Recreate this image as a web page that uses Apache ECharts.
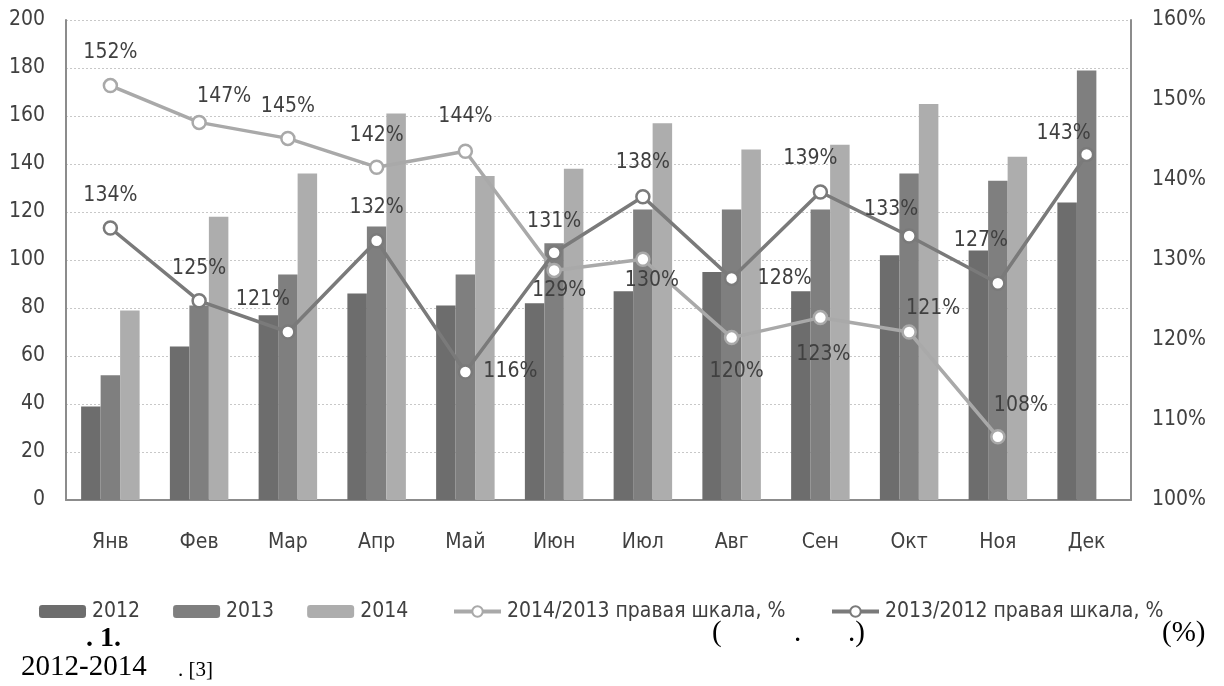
<!DOCTYPE html>
<html><head><meta charset="utf-8">
<script src="https://cdn.jsdelivr.net/npm/echarts@6/dist/echarts.min.js"></script>
<style>html,body{margin:0;padding:0;background:#fff}#c{width:1224px;height:686px}</style>
</head><body><div id="c"></div>
<script>
var months = ['Янв','Фев','Мар','Апр','Май','Июн','Июл','Авг','Сен','Окт','Ноя','Дек'];
var v2012 = [39, 64, 77, 86, 81, 82, 87, 95, 87, 102, 104, 124];
var v2013 = [52, 81, 94, 114, 94, 107, 121, 121, 121, 136, 133, 179];
var v2014 = [79, 118, 136, 161, 135, 138, 157, 146, 148, 165, 143, null];
var r1413 = [151.8, 147.2, 145.2, 141.6, 143.6, 128.7, 130.1, 120.3, 122.8, 121.0, 107.9, null];
var r1312 = [134.0, 124.9, 121.0, 132.4, 116.0, 130.9, 137.9, 127.7, 138.5, 133.0, 127.1, 143.2];
var leftTicks = {min: 0, max: 200, interval: 20};
var rightTicks = {min: 100, max: 160, interval: 10};

var off1413 = [[0,-33],[25,-26],[0,-32],[0,-32],[0,-35],[5,20],[9,21],[5,34],[3,37],[24,-23],[23,-31],[0,0]];
var off1312 = [[0,-32],[0,-32],[-25,-32],[0,-33],[45,0],[0,-31],[0,-34],[53,0],[-10,-33],[-18,-26],[-17,-43],[-23,-21]];

var FONT = '"DejaVu Sans Condensed", "DejaVu Sans", sans-serif';
var TXT = '#404040';
var FS = 21;

function withLabels(vals, offs) {
  return vals.map(function (v, i) {
    if (v === null) return null;
    return {value: v, label: {show: true, position: 'inside', offset: offs[i]}};
  });
}
function legendAt(left, names, gap) {
  return {
    left: left, top: 601, padding: 0, itemWidth: 47, itemHeight: 13, itemGap: gap,
    textStyle: {fontFamily: FONT, fontSize: FS, color: TXT, padding: [0,0,0,1]},
    lineStyle: {width: 4},
    data: names
  };
}

var chart = echarts.init(document.getElementById('c'));
chart.setOption({
  animation: false,
  backgroundColor: '#fff',
  textStyle: {fontFamily: FONT},
  grid: {left: 66, right: 93, top: 20, bottom: 186},
  legend: [
    legendAt(39, ['2012','2013','2014'], 33),
    legendAt(452, ['2014/2013 правая шкала, %'], 10),
    legendAt(830, ['2013/2012 правая шкала, %'], 10)
  ],
  xAxis: {
    type: 'category', data: months,
    axisLine: {lineStyle: {color: '#8c8c8c', width: 2}},
    axisTick: {show: false},
    axisLabel: {color: TXT, fontSize: FS, fontFamily: FONT, margin: 32}
  },
  yAxis: [{
    type: 'value', min: leftTicks.min, max: leftTicks.max, interval: leftTicks.interval,
    axisLine: {show: true, lineStyle: {color: '#8c8c8c', width: 2}},
    axisTick: {show: false},
    axisLabel: {color: TXT, fontSize: FS, fontFamily: FONT, margin: 21},
    splitLine: {lineStyle: {color: '#c8c8c8', type: [2, 2], width: 1}}
  }, {
    type: 'value', min: rightTicks.min, max: rightTicks.max, interval: rightTicks.interval,
    position: 'right',
    axisLine: {show: true, lineStyle: {color: '#8c8c8c', width: 2}},
    axisTick: {show: false},
    axisLabel: {color: TXT, fontSize: FS, fontFamily: FONT, margin: 21, formatter: '{value}%'},
    splitLine: {show: false}
  }],
  series: [
    {name: '2012', type: 'bar', data: v2012, barWidth: 19.5, barGap: '0%', itemStyle: {color: '#6d6d6d'}},
    {name: '2013', type: 'bar', data: v2013, barWidth: 19.5, barGap: '0%', itemStyle: {color: '#7f7f7f'}},
    {name: '2014', type: 'bar', data: v2014, barWidth: 19.5, barGap: '0%', itemStyle: {color: '#adadad'}},
    {
      name: '2014/2013 правая шкала, %', type: 'line', yAxisIndex: 1, z: 5,
      data: withLabels(r1413, off1413),
      symbol: 'circle', symbolSize: 13,
      lineStyle: {color: '#a9a9a9', width: 3.5},
      itemStyle: {color: '#ffffff', borderColor: '#a9a9a9', borderWidth: 2.5},
      label: {color: TXT, fontSize: FS, fontFamily: FONT, formatter: function (p) { return Math.round(p.value) + '%'; }}
    },
    {
      name: '2013/2012 правая шкала, %', type: 'line', yAxisIndex: 1, z: 6,
      data: withLabels(r1312, off1312),
      symbol: 'circle', symbolSize: 13,
      lineStyle: {color: '#7a7a7a', width: 3.5},
      itemStyle: {color: '#ffffff', borderColor: '#7a7a7a', borderWidth: 2.5},
      label: {color: TXT, fontSize: FS, fontFamily: FONT, formatter: function (p) { return Math.round(p.value) + '%'; }}
    }
  ],
  graphic: [
    {type: 'text', left: 86, top: 625, style: {text: '. 1.', font: 'bold 28px "Liberation Serif", serif', fill: '#000'}},
    {type: 'text', left: 712, top: 619, style: {text: '(', font: '29px "Liberation Serif", serif', fill: '#000'}},
    {type: 'text', left: 794, top: 619, style: {text: '.', font: '29px "Liberation Serif", serif', fill: '#000'}},
    {type: 'text', left: 848, top: 619, style: {text: '.)', font: '29px "Liberation Serif", serif', fill: '#000'}},
    {type: 'text', left: 1162, top: 619, style: {text: '(%)', font: '29px "Liberation Serif", serif', fill: '#000'}},
    {type: 'text', left: 21, top: 653, style: {text: '2012-2014', font: '29px "Liberation Serif", serif', fill: '#000'}},
    {type: 'text', left: 178, top: 660, style: {text: '. [3]', font: '21px "Liberation Serif", serif', fill: '#000'}}
  ]
});
</script>
</body></html>
